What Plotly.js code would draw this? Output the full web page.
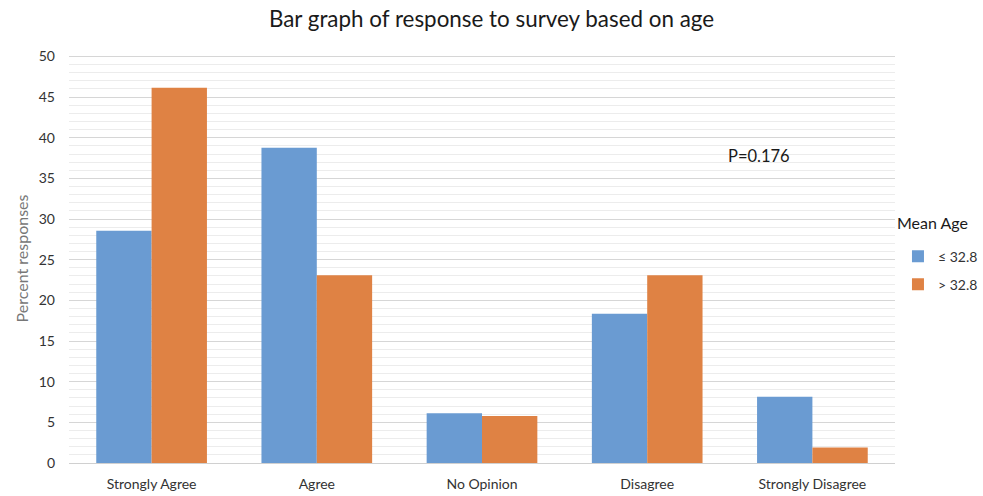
<!DOCTYPE html>
<html>
<head>
<meta charset="utf-8">
<script src="https://cdn.plot.ly/plotly-3.0.1.min.js"></script>
<style>html,body{margin:0;padding:0;background:#fff;}#chart{width:983px;height:496px;}</style>
</head>
<body>
<div id="chart"></div>
<script>
const categories = ["Strongly Agree", "Agree", "No Opinion", "Disagree", "Strongly Disagree"];
const youngerValues = [28.57, 38.78, 6.12, 18.37, 8.16];
const olderValues = [46.15, 23.08, 5.77, 23.08, 1.92];
const seriesNames = ["\u2264 32.8", "> 32.8"];
const yTickValues = [0, 5, 10, 15, 20, 25, 30, 35, 40, 45, 50];

const FONT = "Lato, 'Open Sans', sans-serif";

const traces = [
  {type: "bar", name: seriesNames[0], x: categories, y: youngerValues,
   marker: {color: "#6A9BD2"}, legendgroup: "a", hoverinfo: "none"},
  {type: "bar", name: seriesNames[1], x: categories, y: olderValues,
   marker: {color: "#DF8244"}, legendgroup: "b", hoverinfo: "none"}
];

const layout = {
  width: 983, height: 496,
  margin: {l: 69, r: 88, t: 54, b: 33, autoexpand: false},
  paper_bgcolor: "#fff", plot_bgcolor: "#fff",
  font: {family: FONT, color: "#333", size: 14},
  barmode: "group",
  bargap: 0.33,
  bargroupgap: 0,
  title: {text: "Bar graph of response to survey based on age",
          font: {family: FONT, size: 22.4, color: "#1a1a1a"},
          x: 0.5, xref: "container", xanchor: "center",
          y: 0.962, yref: "container", yanchor: "middle"},
  xaxis: {
    type: "category",
    showgrid: false, zeroline: false,
    showline: true, linecolor: "#d0d0d0", linewidth: 1,
    ticks: "", ticklabelstandoff: 8,
    tickfont: {family: FONT, size: 14, color: "#333"}
  },
  yaxis: {
    range: [0, 50.3],
    tickvals: yTickValues,
    showgrid: true, gridcolor: "#d6d6d6", gridwidth: 1,
    zeroline: false, showline: false,
    ticks: "", ticklabelstandoff: 13,
    tickfont: {family: FONT, size: 14, color: "#333"},
    minor: {dtick: 1, showgrid: true, gridcolor: "#ececec", gridwidth: 1},
    title: {text: "Percent responses", font: {family: FONT, size: 16, color: "#777"}, standoff: 6}
  },
  legend: {
    xref: "container", yref: "container",
    x: 0.9135, xanchor: "left", y: 0.515, yanchor: "top",
    font: {family: FONT, size: 14, color: "#333"},
    traceorder: "grouped", tracegroupgap: 7,
    bgcolor: "rgba(0,0,0,0)"
  },
  annotations: [
    {text: "P=0.176", xref: "paper", yref: "paper", x: 0.835, y: 0.75,
     xanchor: "center", yanchor: "middle", showarrow: false,
     font: {family: FONT, size: 16.5, color: "#1a1a1a"}},
    {text: "Mean Age", xref: "paper", yref: "paper", x: 1.0, y: 0.589,
     xanchor: "left", yanchor: "middle", showarrow: false,
     font: {family: FONT, size: 16, color: "#1a1a1a"}}
  ],
  showlegend: true
};

Plotly.newPlot("chart", traces, layout, {displayModeBar: false, staticPlot: true});
</script>
</body>
</html>
